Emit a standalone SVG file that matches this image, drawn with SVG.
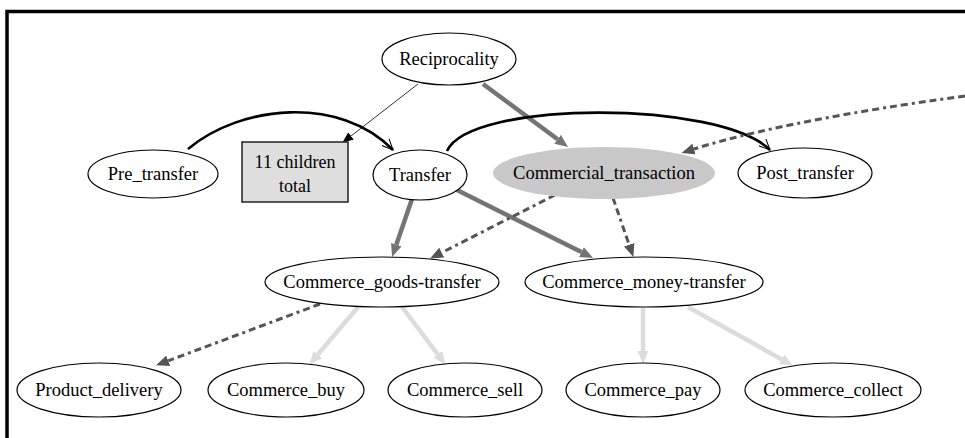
<svg xmlns="http://www.w3.org/2000/svg" width="965" height="438" viewBox="0 0 965 438">
  <style>
    .node ellipse { fill: #ffffff; stroke: #000000; stroke-width: 1.2; }
    .node text, .box text { font-family: "Liberation Serif", "Times New Roman", serif; font-size: 18.5px; fill: #000000; text-anchor: middle; }
    .box text { font-size: 18px; }
    .shaded ellipse { fill: #c8c8c8; stroke: none; }
    .box rect { fill: #dedede; stroke: #222222; stroke-width: 1.5; }
    .edge { fill: none; }
    .thin { stroke: #333333; stroke-width: 1; }
    .curve { stroke: #000000; stroke-width: 2.6; }
    .strong { stroke: #747474; stroke-width: 4.5; }
    .light { stroke: #dcdcdc; stroke-width: 4.5; }
    .dashed { stroke: #555555; stroke-width: 3; stroke-dasharray: 7 4 7 4 3 4; }
  </style>
  <defs>
    <marker id="tip-black" markerUnits="userSpaceOnUse" markerWidth="11" markerHeight="9" refX="0" refY="4.5" orient="auto">
      <path d="M0,0 L11,4.5 L0,9 z" fill="#000000"/>
    </marker>
    <marker id="tip-open" markerUnits="userSpaceOnUse" markerWidth="13" markerHeight="11" refX="11" refY="5.5" orient="auto">
      <path d="M0,0.5 L11,5.5 L0,10.5" fill="none" stroke="#000000" stroke-width="1"/>
    </marker>
    <marker id="tip-strong" markerUnits="userSpaceOnUse" markerWidth="13" markerHeight="11" refX="0" refY="5.5" orient="auto">
      <path d="M0,0 L13,5.5 L0,11 z" fill="#747474"/>
    </marker>
    <marker id="tip-light" markerUnits="userSpaceOnUse" markerWidth="13" markerHeight="11" refX="0" refY="5.5" orient="auto">
      <path d="M0,0 L13,5.5 L0,11 z" fill="#dcdcdc"/>
    </marker>
    <marker id="tip-dashed" markerUnits="userSpaceOnUse" markerWidth="13" markerHeight="11" refX="0" refY="5.5" orient="auto">
      <path d="M0,0 L13,5.5 L0,11 z" fill="#555555"/>
    </marker>
  </defs>

  <rect width="965" height="438" fill="#ffffff"/>
  <!-- frame: top and left rules -->
  <path d="M7,438 L7,11.5 L965,11.5" fill="none" stroke="#000000" stroke-width="3.5"/>

  <g id="connectors">
    <path class="edge thin" d="M418,84 L351,136" marker-end="url(#tip-black)"/>
    <path class="edge strong" d="M483,84 L557.6,139.3" marker-end="url(#tip-strong)"/>
    <path class="edge curve" d="M188,149 C240,105 340,95 393,150" marker-end="url(#tip-open)"/>
    <path class="edge curve" d="M447,151 C470,100 720,100 770,150" marker-end="url(#tip-open)"/>
    <path class="edge dashed" d="M965,96 C890,106 770,125 694,149" marker-end="url(#tip-dashed)"/>
    <path class="edge strong" d="M412,199 L396.3,244.7" marker-end="url(#tip-strong)"/>
    <path class="edge strong" d="M455,189 L581.4,252.1" marker-end="url(#tip-strong)"/>
    <path class="edge dashed" d="M555,195 L441.7,252.6" marker-end="url(#tip-dashed)"/>
    <path class="edge dashed" d="M613,198 L629.1,244.7" marker-end="url(#tip-dashed)"/>
    <path class="edge dashed" d="M320,304 L168.2,360.8" marker-end="url(#tip-dashed)"/>
    <path class="edge light" d="M358,307 L317.7,354.8" marker-end="url(#tip-light)"/>
    <path class="edge light" d="M402,307 L437.8,354.4" marker-end="url(#tip-light)"/>
    <path class="edge light" d="M643,308 L643,351" marker-end="url(#tip-light)"/>
    <path class="edge light" d="M688,307 L781.5,359.2" marker-end="url(#tip-light)"/>
  </g>

  <g id="Reciprocality" class="node">
    <ellipse cx="449" cy="59" rx="67" ry="26"/>
    <text x="449" y="65">Reciprocality</text>
  </g>
  <g id="Pre_transfer" class="node">
    <ellipse cx="153" cy="174" rx="65" ry="24"/>
    <text x="153" y="180">Pre_transfer</text>
  </g>
  <g id="children_total" class="box">
    <rect x="242" y="142" width="106" height="60"/>
    <text x="295" y="168">11 children</text>
    <text x="295" y="192">total</text>
  </g>
  <g id="Transfer" class="node">
    <ellipse cx="420" cy="175" rx="47" ry="25"/>
    <text x="420" y="181">Transfer</text>
  </g>
  <g id="Commercial_transaction" class="node shaded">
    <ellipse cx="604" cy="173" rx="111" ry="26"/>
    <text x="604" y="179">Commercial_transaction</text>
  </g>
  <g id="Post_transfer" class="node">
    <ellipse cx="805" cy="173" rx="67" ry="25"/>
    <text x="805" y="179">Post_transfer</text>
  </g>
  <g id="Commerce_goods-transfer" class="node">
    <ellipse cx="382" cy="282" rx="117" ry="25"/>
    <text x="382" y="288">Commerce_goods-transfer</text>
  </g>
  <g id="Commerce_money-transfer" class="node">
    <ellipse cx="644" cy="282" rx="119" ry="25"/>
    <text x="644" y="288">Commerce_money-transfer</text>
  </g>
  <g id="Product_delivery" class="node">
    <ellipse cx="99" cy="390" rx="82" ry="27"/>
    <text x="99" y="396">Product_delivery</text>
  </g>
  <g id="Commerce_buy" class="node">
    <ellipse cx="286" cy="390" rx="78" ry="27"/>
    <text x="286" y="396">Commerce_buy</text>
  </g>
  <g id="Commerce_sell" class="node">
    <ellipse cx="465" cy="390" rx="77" ry="27"/>
    <text x="465" y="396">Commerce_sell</text>
  </g>
  <g id="Commerce_pay" class="node">
    <ellipse cx="643" cy="390" rx="77" ry="27"/>
    <text x="643" y="396">Commerce_pay</text>
  </g>
  <g id="Commerce_collect" class="node">
    <ellipse cx="833" cy="390" rx="88" ry="27"/>
    <text x="833" y="396">Commerce_collect</text>
  </g>
</svg>
